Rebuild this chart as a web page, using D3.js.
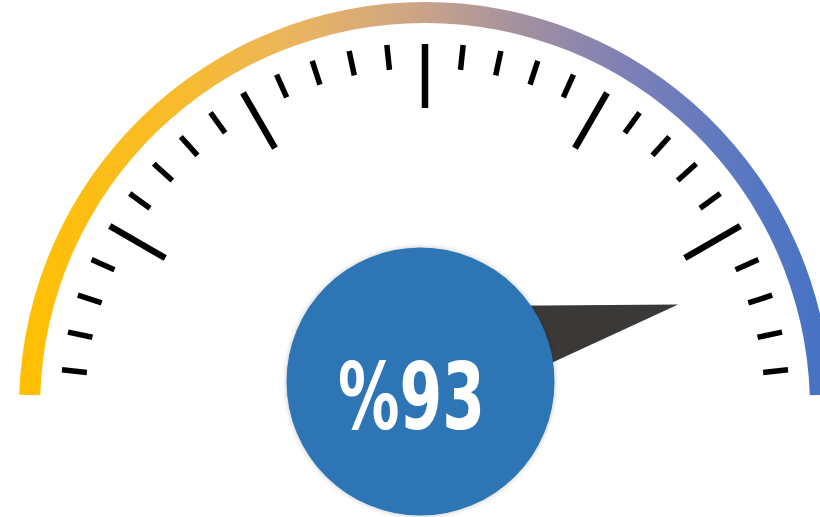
<!DOCTYPE html>
<html>
<head>
<meta charset="utf-8">
<script src="https://cdn.jsdelivr.net/npm/d3@7"></script>
<style>
  html, body { margin: 0; padding: 0; background: #ffffff; }
  svg { display: block; }
</style>
</head>
<body>
<div id="chart"></div>
<script>
// ---- data ----
const gaugeValue = [93];
const gaugeDomain = [0, 100];
const labelText = ["%93"];
const tickSteps = [30];          // 30 steps of 6 degrees across the dial
const majorEvery = [5];          // every 5th tick is a major tick
const gradientStops = [
  { offset: 0.00, color: "#FFC000" },
  { offset: 0.20, color: "#F8BB2E" },
  { offset: 0.35, color: "#E9B462" },
  { offset: 0.50, color: "#C9A38A" },
  { offset: 0.62, color: "#A390A0" },
  { offset: 0.75, color: "#7C80B6" },
  { offset: 0.90, color: "#5777C2" },
  { offset: 1.00, color: "#4472C4" }
];

// ---- layout ----
const W = 820, H = 517;
const cx = 425, cy = 408;
const arcOuter = 406, arcInner = 385;
const majorR = [300, 364], minorR = [340, 365];
const hub = { x: 420.5, y: 381.5, r: 134 };

const svg = d3.select("#chart").append("svg")
  .attr("width", W).attr("height", H);

const defs = svg.append("defs");
const grad = defs.append("linearGradient")
  .attr("id", "arcGrad")
  .attr("gradientUnits", "userSpaceOnUse")
  .attr("x1", -arcOuter).attr("y1", 0)
  .attr("x2", arcOuter).attr("y2", 0);
grad.selectAll("stop").data(gradientStops).join("stop")
  .attr("offset", d => d.offset)
  .attr("stop-color", d => d.color);

const shadow = defs.append("filter").attr("id", "hubShadow")
  .attr("x", "-20%").attr("y", "-20%").attr("width", "140%").attr("height", "140%");
shadow.append("feDropShadow")
  .attr("dx", 0).attr("dy", 0).attr("stdDeviation", 2.5)
  .attr("flood-color", "#000").attr("flood-opacity", 0.25);

// angle scale (degrees, 0 = straight up)
const angle = d3.scaleLinear().domain(gaugeDomain).range([-90, 90]);
const toRad = d => d * Math.PI / 180;

// arc band: ends are trimmed so the band stops at y = 395
const endTrim = Math.asin((cy - 395) / ((arcOuter + arcInner) / 2)) * 180 / Math.PI;
const arcGen = d3.arc()
  .innerRadius(arcInner).outerRadius(arcOuter)
  .startAngle(toRad(-90 + endTrim)).endAngle(toRad(90 - endTrim));
svg.append("path")
  .attr("transform", `translate(${cx},${cy})`)
  .attr("d", arcGen())
  .attr("fill", "url(#arcGrad)");

// ticks
const tickScale = d3.scaleLinear().domain([0, tickSteps[0]]).range(gaugeDomain);
const ticks = d3.range(1, tickSteps[0]).map(i => ({
  v: tickScale(i), major: i % majorEvery[0] === 0
}));
svg.append("g").selectAll("line").data(ticks).join("line")
  .each(function(d) {
    const a = toRad(angle(d.v));
    const r = d.major ? majorR : minorR;
    d3.select(this)
      .attr("x1", cx + r[0] * Math.sin(a)).attr("y1", cy - r[0] * Math.cos(a))
      .attr("x2", cx + r[1] * Math.sin(a)).attr("y2", cy - r[1] * Math.cos(a));
  })
  .attr("stroke", "#000")
  .attr("stroke-width", d => d.major ? 6.5 : 5.5);

// needle (isosceles triangle pivoting behind the hub)
const pivot = { x: hub.x, y: 362 };
const needleLen = 264, needleHalf = 57;
const na = toRad(angle(gaugeValue[0]));
const ux = Math.sin(na), uy = -Math.cos(na);     // along needle
const px = -uy, py = ux;                          // perpendicular
const needlePts = [
  [pivot.x + px * needleHalf, pivot.y + py * needleHalf],
  [pivot.x + ux * needleLen, pivot.y + uy * needleLen],
  [pivot.x - px * needleHalf, pivot.y - py * needleHalf]
];
svg.append("path")
  .attr("d", d3.line()(needlePts) + "Z")
  .attr("fill", "#3A3938");

// hub circle
svg.append("circle")
  .attr("cx", hub.x).attr("cy", hub.y).attr("r", hub.r)
  .attr("fill", "#2E75B6")
  .attr("filter", "url(#hubShadow)");

// label
svg.append("text")
  .attr("x", 338).attr("y", 429)
  .attr("textLength", 147)
  .attr("lengthAdjust", "spacingAndGlyphs")
  .attr("font-family", "'Liberation Sans Narrow', 'DejaVu Sans Condensed', 'Roboto Condensed', sans-serif")
  .attr("font-weight", "bold")
  .attr("font-size", 93)
  .attr("fill", "#ffffff")
  .text(labelText[0]);
</script>
</body>
</html>
